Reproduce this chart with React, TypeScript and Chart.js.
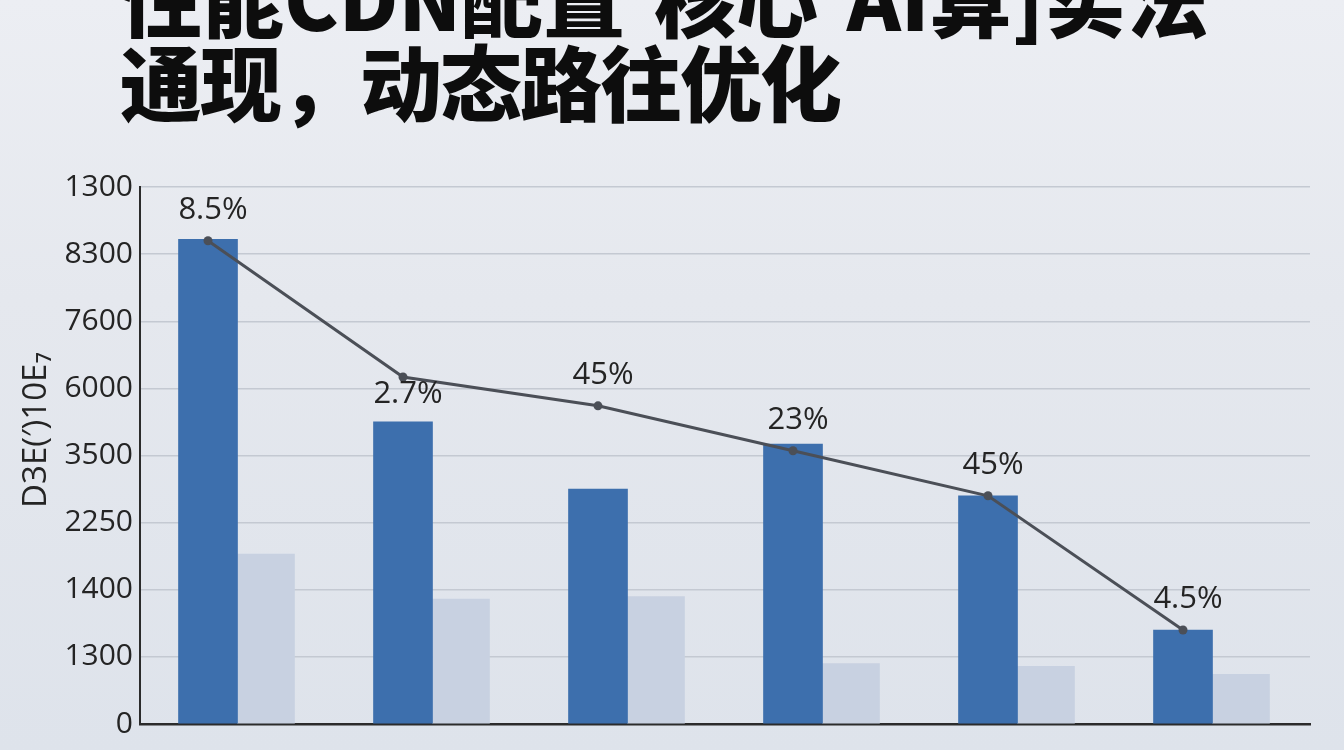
import React, { useEffect, useRef } from "react";
import { Chart, registerables } from "chart.js";

Chart.register(...registerables);

const titleLine1 = "性能CDN配置'核心'AI算]实法";
const titleLine2 = "通现，动态路往优化";
const yAxisTitle = "D3E(′)10E₇";

// Tick labels as printed on the (evenly spaced) y axis, bottom to top
const yTickLabels = ["0", "1300", "1400", "2250", "3500", "6000", "7600", "8300", "1300"];

const categories = ["A", "B", "C", "D", "E", "F"];
// Values expressed in axis grid units (0 = "0", 8 = top "1300")
const darkValues = [7.22, 4.5, 3.5, 4.17, 3.4, 1.4];
const lightValues = [2.53, 1.86, 1.9, 0.9, 0.86, 0.74];
const lineValues = [7.2, 5.17, 4.74, 4.07, 3.4, 1.4];
const lineLabels = ["8.5%", "2.7%", "45%", "23%", "45%", "4.5%"];
const labelSide = ["above", "below", "above", "above", "above", "above"];

const BAR_THICKNESS = 59;
const N_CAT = categories.length;

export default function App() {
  const canvasRef = useRef<HTMLCanvasElement | null>(null);

  useEffect(() => {
    document.body.style.margin = "0";
    const canvas = canvasRef.current;
    if (!canvas) return;

    const labelPlugin = {
      id: "pctLabels",
      afterDatasetsDraw(chart: any) {
        const meta = chart.getDatasetMeta(0);
        const ctx = chart.ctx;
        ctx.save();
        ctx.font = "31px 'Open Sans'";
        ctx.fillStyle = "#242424";
        ctx.textAlign = "center";
        ctx.textBaseline = "middle";
        meta.data.forEach((pt: any, i: number) => {
          const above = labelSide[i] === "above";
          ctx.fillText(lineLabels[i], pt.x + 5, above ? pt.y - 31 : pt.y + 17);
        });
        ctx.restore();
      },
      afterDraw(chart: any) {
        const ctx = chart.ctx;
        ctx.save();
        ctx.font = "33px 'Open Sans'";
        ctx.fillStyle = "#242424";
        ctx.textAlign = "center";
        ctx.textBaseline = "middle";
        ctx.translate(37, 430);
        ctx.rotate(-Math.PI / 2);
        ctx.fillText(yAxisTitle, 0, 0);
        ctx.restore();
      },
    };

    // shift line points to the centre of the dark (first) bar in each group
    const lineShiftPlugin = {
      id: "lineShift",
      beforeDatasetsUpdate(chart: any) {
        const area = chart.chartArea;
        if (!area) return;
        const catW = (area.right - area.left) / N_CAT;
        const off = -(BAR_THICKNESS / 2) / catW;
        chart.data.datasets[0].data = lineValues.map((v, i) => ({ x: i + off, y: v }));
      },
    };

    const chart = new Chart(canvas, {
      type: "bar",
      data: {
        labels: categories,
        datasets: [
          {
            type: "line",
            data: lineValues.map((v, i) => ({ x: i - 0.15, y: v })),
            xAxisID: "x2",
            borderColor: "#4b4f57",
            backgroundColor: "#4b4f57",
            borderWidth: 3,
            pointRadius: 4.5,
            pointBackgroundColor: "#4b4f57",
            pointBorderWidth: 0,
            tension: 0,
            order: 0,
          } as any,
          {
            type: "bar",
            data: darkValues,
            backgroundColor: "#3d6fad",
            barThickness: BAR_THICKNESS,
            order: 1,
          },
          {
            type: "bar",
            data: lightValues,
            backgroundColor: "#c8d1e1",
            barThickness: BAR_THICKNESS - 2,
            order: 2,
          },
        ],
      },
      options: {
        animation: false,
        responsive: false,
        maintainAspectRatio: false,
        layout: { padding: { top: 187, left: 0, right: 34, bottom: 18 } },
        plugins: { legend: { display: false }, tooltip: { enabled: false } },
        scales: {
          x: {
            type: "category",
            offset: true,
            grid: { display: false },
            ticks: { display: false },
            border: { display: true, color: "#2b2b2b", width: 2.5 },
          },
          x2: {
            type: "linear",
            position: "bottom",
            min: -0.5,
            max: 5.5,
            offset: false,
            display: true,
            ticks: { display: false },
            grid: { display: false, drawTicks: false },
            border: { display: false },
          },
          y: {
            type: "linear",
            min: 0,
            max: 8,
            afterFit(scale: any) {
              scale.width = 140;
            },
            ticks: {
              stepSize: 1,
              padding: 7,
              color: "#242424",
              font: { family: "'Open Sans'", size: 30 },
              callback: (v: any) => yTickLabels[Math.round(Number(v))] ?? "",
            },
            grid: { color: "#c4c9d2", lineWidth: 1.5, drawTicks: false },
            border: { display: true, color: "#2b2b2b", width: 2 },
          },
        },
      },
      plugins: [lineShiftPlugin, labelPlugin],
    });
    chart.update();
    return () => chart.destroy();
  }, []);

  return (
    <div
      style={{
        position: "fixed",
        left: 0,
        top: 0,
        width: 1344,
        height: 750,
        overflow: "hidden",
        background: "linear-gradient(180deg, #eceef3 0%, #e5e8ee 40%, #dee3eb 100%)",
      }}
    >
      <div
        style={{
          position: "absolute",
          left: 120,
          top: -46,
          fontFamily: "'Noto Sans CJK SC', sans-serif",
          fontWeight: 900,
          fontSize: 82,
          lineHeight: "84px",
          color: "#0d0d0d",
          whiteSpace: "nowrap",
          letterSpacing: "0px",
        }}
      >
        <div>{titleLine1}</div>
        <div style={{ letterSpacing: "-2px" }}>{titleLine2}</div>
      </div>
      <canvas
        ref={canvasRef}
        width={1344}
        height={750}
        style={{ position: "absolute", left: 0, top: 0, width: 1344, height: 750 }}
      />
    </div>
  );
}
